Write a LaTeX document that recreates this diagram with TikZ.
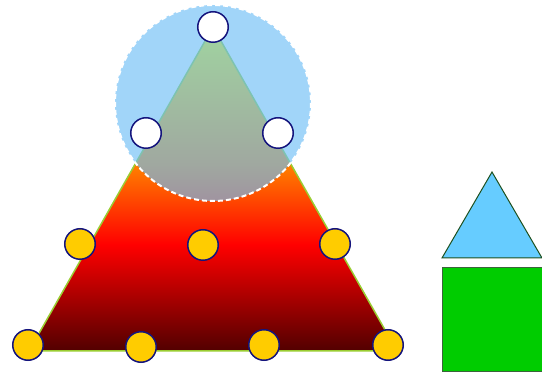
\documentclass[tikz,border=0pt]{standalone}
\usepackage{tikz}
\definecolor{edgegreen}{RGB}{154,205,50}
\definecolor{skyfill}{RGB}{110,190,246}
\definecolor{ringblue}{RGB}{20,20,125}
\definecolor{dotgold}{RGB}{255,204,0}
\definecolor{skytri}{RGB}{102,204,255}
\definecolor{tripeak}{RGB}{30,80,30}
\definecolor{boxgreen}{RGB}{0,204,0}
\definecolor{boxedge}{RGB}{60,100,60}
\pgfdeclareverticalshading{fire}{100bp}{rgb(0bp)=(0.32,0,0); rgb(25bp)=(0.32,0,0); rgb(41.4bp)=(1,0,0); rgb(53.7bp)=(1,0.5,0); rgb(75bp)=(1,1,0); rgb(100bp)=(1,1,0)}

\begin{document}
\begin{tikzpicture}[x=1pt,y=-1pt,line width=1.5pt,
 dot/.style={circle,draw=ringblue,inner sep=0pt,minimum size=30.5pt}]
 \useasboundingbox (0,0) rectangle (542,374);
 \shadedraw[shading=fire,draw=edgegreen] (29,351)--(213,27)--(397,351)--cycle;
 \draw[fill=skyfill,fill opacity=0.65,draw=white,line width=2pt,dash pattern=on 5pt off 3pt] (213,103) circle[radius=98];
 \foreach \n/\x/\y in {t1/213/27,t2/146/133,t3/278/133}{%
   \node[dot,fill=white] (\n) at (\x,\y) {};
 }
 \foreach \n/\x/\y in {m1/80/244,m2/203/245,m3/335/244,b1/28/345,b2/141/347,b3/264/345,b4/388/345}{%
   \node[dot,fill=dotgold] (\n) at (\x,\y) {};
 }
 \draw[draw=tripeak,fill=skytri,line width=1pt] (442,258)--(492,172)--(542,258)--cycle;
 \draw[draw=boxedge,fill=boxgreen,line width=1pt] (442,268) rectangle (542,372);
\end{tikzpicture}
\end{document}
